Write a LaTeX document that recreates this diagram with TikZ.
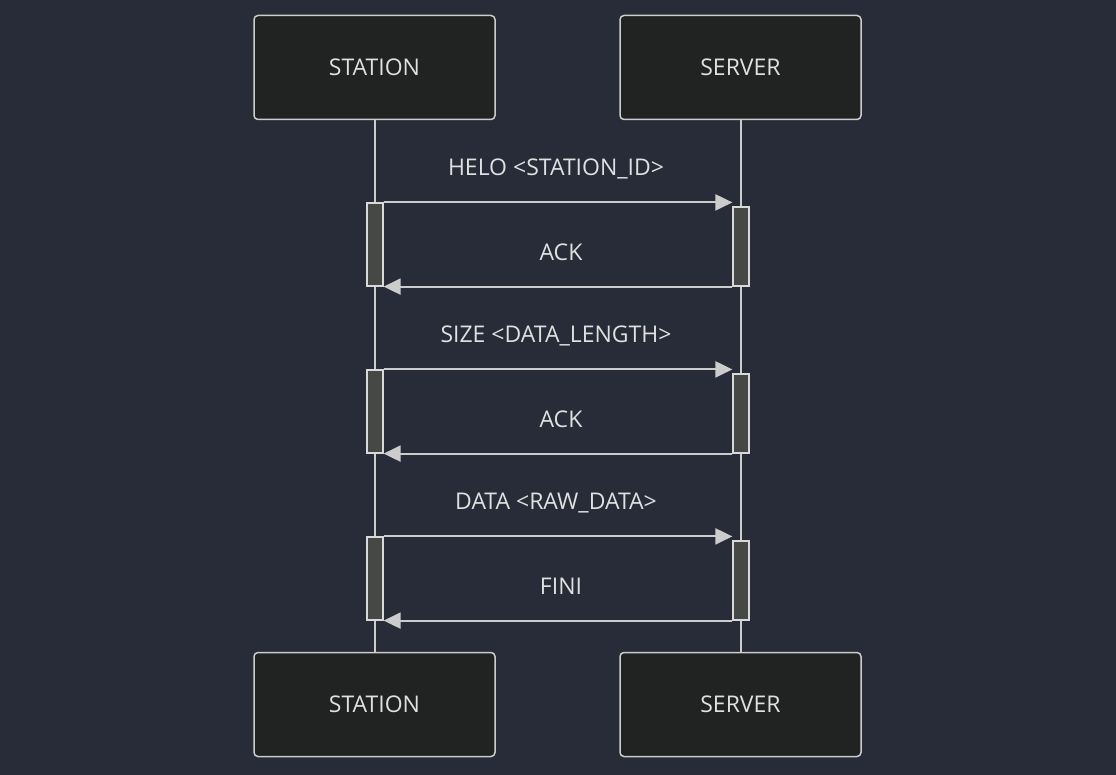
\documentclass[tikz,border=0pt]{standalone}
\usepackage{fontspec}
\setmainfont{Open Sans}
\usetikzlibrary{arrows.meta}

\definecolor{bgcol}{HTML}{282C38}
\definecolor{boxfill}{HTML}{212322}
\definecolor{actfill}{HTML}{464846}
\definecolor{linecol}{HTML}{CCCCCC}
\definecolor{txtcol}{HTML}{E0E0E0}

\tikzset{
  actor/.style={draw=linecol, fill=boxfill, line width=1.5pt, rounded corners=4pt,
    minimum width=241pt, minimum height=104pt, text=txtcol, font=\fontsize{23}{27}\selectfont},
  actbar/.style={draw=linecol!75, fill=actfill, line width=1.2pt, minimum width=16pt, inner sep=0pt},
  msg/.style={linecol, line width=2pt, -{Triangle[length=17pt, width=16pt]}},
  msglabel/.style={text=txtcol, font=\fontsize{23}{27}\selectfont},
  lifeline/.style={linecol, line width=2pt}
}

\begin{document}
\begin{tikzpicture}[x=1pt, y=-1pt]
        \fill[bgcol] (0,0) rectangle (1116,775);
        \useasboundingbox (0,0) rectangle (1116,775);

        % actors
        \node[actor] (sta) at (374.5,67.5) {STATION};
        \node[actor] (srv) at (740.5,67.5) {SERVER};
        \node[actor] (stab) at (374.5,704.5) {STATION};
        \node[actor] (srvb) at (740.5,704.5) {SERVER};

        \draw[lifeline] (sta.south) -- (stab.north);
        \draw[lifeline] (srv.south) -- (srvb.north);

        % activations
        \node[actbar, minimum height=83pt] (a1) at (375,244.5) {};
        \node[actbar, minimum height=79pt] (b1) at (741,246.5) {};
        \node[actbar, minimum height=83pt] (a2) at (375,411.5) {};
        \node[actbar, minimum height=79pt] (b2) at (741,413.5) {};
        \node[actbar, minimum height=83pt] (a3) at (375,578.5) {};
        \node[actbar, minimum height=79pt] (b3) at (741,580.5) {};

        % messages
        \draw[msg] (a1.north east) -- (a1.north east -| b1.west);
        \draw[msg] (b1.south west) -- (a1.south east);
        \draw[msg] (a2.north east) -- (a2.north east -| b2.west);
        \draw[msg] (b2.south west) -- (a2.south east);
        \draw[msg] (a3.north east) -- (a3.north east -| b3.west);
        \draw[msg] (b3.south west) -- (a3.south east);

        \node[msglabel] (l1) at (556,169) {HELO <STATION\_ID>};
        \node[msglabel] (l2) at (561,252) {ACK};
        \node[msglabel] (l3) at (556,336) {SIZE <DATA\_LENGTH>};
        \node[msglabel] (l4) at (561,419) {ACK};
        \node[msglabel] (l5) at (556,503) {DATA <RAW\_DATA>};
        \node[msglabel] (l6) at (561,586) {FINI};
\end{tikzpicture}
\end{document}
